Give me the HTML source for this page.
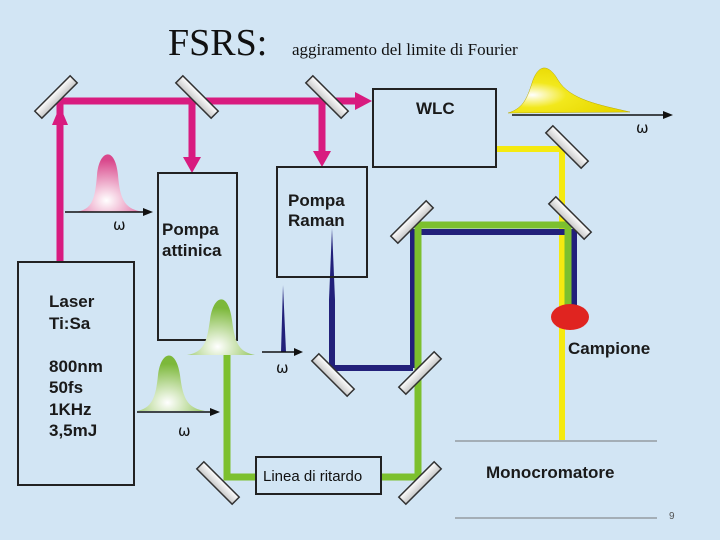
<!DOCTYPE html>
<html><head><meta charset="utf-8"><style>
html,body{margin:0;padding:0;width:720px;height:540px;overflow:hidden;background:#d2e5f4}
svg{display:block}
.t{font-family:"Liberation Sans",Arial,sans-serif;font-weight:bold;fill:#1a1a1a}
</style></head><body>
<svg width="720" height="540" viewBox="0 0 720 540" xmlns="http://www.w3.org/2000/svg">
<defs>
<radialGradient id="gp" cx="0.45" cy="0.8" r="0.7"><stop offset="0" stop-color="#fff"/><stop offset="1" stop-color="#d9488c"/></radialGradient>
<radialGradient id="gg" cx="0.45" cy="0.85" r="0.7"><stop offset="0" stop-color="#fff"/><stop offset="1" stop-color="#7cb83a"/></radialGradient>
<radialGradient id="gy" cx="0.2" cy="0.6" r="0.7"><stop offset="0" stop-color="#fff"/><stop offset="0.4" stop-color="#f2e81c"/><stop offset="1" stop-color="#e8d800"/></radialGradient>
<linearGradient id="mir" x1="0" y1="0" x2="0" y2="1"><stop offset="0" stop-color="#fff"/><stop offset="1" stop-color="#c8c8c8"/></linearGradient>
<g id="m"><rect x="-25" y="-5" width="50" height="10" fill="url(#mir)" stroke="#333" stroke-width="1.5"/></g>
</defs>
<rect width="720" height="540" fill="#d2e5f4"/>
<text x="168" y="55" font-family="Liberation Serif,serif" font-size="38" fill="#111">FSRS:</text>
<text x="292" y="55" font-family="Liberation Serif,serif" font-size="17" fill="#111">aggiramento del limite di Fourier</text>

<!-- magenta beams -->
<g stroke="#d81b7f" stroke-width="7" fill="none">
<line x1="60" y1="262" x2="60" y2="101"/>
<line x1="57" y1="101" x2="358" y2="101"/>
<line x1="192" y1="101" x2="192" y2="160"/>
<line x1="322" y1="101" x2="322" y2="154"/>
</g>
<g fill="#d81b7f">
<polygon points="52,125 68,125 60,106"/>
<polygon points="355,92 372,101 355,110"/>
<polygon points="183,157 201,157 192,173"/>
<polygon points="313,151 331,151 322,167"/>
</g>

<!-- yellow / green / navy -->
<polyline points="496,149 562,149 562,440" stroke="#f5ea10" stroke-width="6" fill="none"/>
<polyline points="413,368 332,368 332,300" stroke="#22207a" stroke-width="6" fill="none"/>
<polyline points="413,368 413,232 574,232 574,305" stroke="#22207a" stroke-width="6" fill="none"/>
<polyline points="227,355 227,477 256,477" stroke="#7cc02e" stroke-width="7" fill="none"/>
<polyline points="381,477 418,477 418,225 568,225 568,305" stroke="#7cc02e" stroke-width="7" fill="none"/>
<polygon points="329,300 335,300 332,228" fill="#22207a"/>
<ellipse cx="570" cy="317" rx="19" ry="13" fill="#e02420"/>

<!-- mirrors -->
<use href="#m" transform="translate(56,97) rotate(-45)"/>
<use href="#m" transform="translate(197,97) rotate(45)"/>
<use href="#m" transform="translate(327,97) rotate(45)"/>
<use href="#m" transform="translate(567,147) rotate(45)"/>
<use href="#m" transform="translate(570,218) rotate(45)"/>
<use href="#m" transform="translate(412,222) rotate(-45)"/>
<use href="#m" transform="translate(333,375) rotate(45)"/>
<use href="#m" transform="translate(420,373) rotate(-45)"/>
<use href="#m" transform="translate(218,483) rotate(45)"/>
<use href="#m" transform="translate(420,483) rotate(-45)"/>

<!-- boxes -->
<g fill="none" stroke="#222" stroke-width="2">
<rect x="18" y="262" width="116" height="223"/>
<rect x="158" y="173" width="79" height="167"/>
<rect x="277" y="167" width="90" height="110"/>
<rect x="373" y="89" width="123" height="78"/>
</g>
<rect x="256" y="457" width="125" height="37" fill="#d2e5f4" stroke="#222" stroke-width="2"/>
<line x1="455" y1="441" x2="657" y2="441" stroke="#777" stroke-width="1"/>
<line x1="455" y1="518" x2="657" y2="518" stroke="#777" stroke-width="1"/>

<!-- labels -->
<g class="t" font-size="17">
<text x="49" y="307">Laser</text>
<text x="49" y="329">Ti:Sa</text>
<text x="49" y="372">800nm</text>
<text x="49" y="393">50fs</text>
<text x="49" y="415">1KHz</text>
<text x="49" y="436">3,5mJ</text>
<text x="162" y="235">Pompa</text>
<text x="162" y="256">attinica</text>
<text x="288" y="206">Pompa</text>
<text x="288" y="226">Raman</text>
<text x="416" y="114">WLC</text>
<text x="568" y="354">Campione</text>
<text x="486" y="478">Monocromatore</text>
</g>
<text x="263" y="481" font-family="Liberation Sans,sans-serif" font-size="15" fill="#111">Linea di ritardo</text>
<text x="669" y="519" font-family="Liberation Sans,sans-serif" font-size="10" fill="#555">9</text>

<!-- pulses -->
<path d="M75,212 C92,210 95,200 97,175 C99,150 115,145 118,175 C120,200 125,210 145,212 Z" fill="url(#gp)"/>
<line x1="65" y1="212" x2="145" y2="212" stroke="#111" stroke-width="1.5"/><polygon points="143,208 153,212 143,216" fill="#111"/>
<path d="M187,355 C205,352 207,340 210,320 C213,295 228,290 232,320 C235,345 240,352 255,355 Z" fill="url(#gg)"/>
<path d="M137,411 C153,408 156,395 158,375 C161,350 176,348 180,375 C183,400 188,408 205,411 Z" fill="url(#gg)"/>
<line x1="137" y1="412" x2="212" y2="412" stroke="#111" stroke-width="1.5"/><polygon points="210,408 220,412 210,416" fill="#111"/>
<polygon points="281,352 286,352 283,285" fill="#22207a"/>
<line x1="262" y1="352" x2="296" y2="352" stroke="#111" stroke-width="1.5"/><polygon points="294,348 303,352 294,356" fill="#111"/>
<path d="M508,113 C525,108 528,95 533,80 C540,62 550,66 558,80 C570,100 600,105 630,112 Z" fill="url(#gy)" stroke="#b8a800" stroke-width="0.5"/>
<line x1="512" y1="115" x2="665" y2="115" stroke="#111" stroke-width="1.5"/><polygon points="663,111 673,115 663,119" fill="#111"/>
<g font-family="DejaVu Sans,sans-serif" font-size="15" fill="#111">
<text x="113" y="230">ω</text>
<text x="178" y="436">ω</text>
<text x="276" y="373">ω</text>
<text x="636" y="133">ω</text>
</g>
</svg>
</body></html>
